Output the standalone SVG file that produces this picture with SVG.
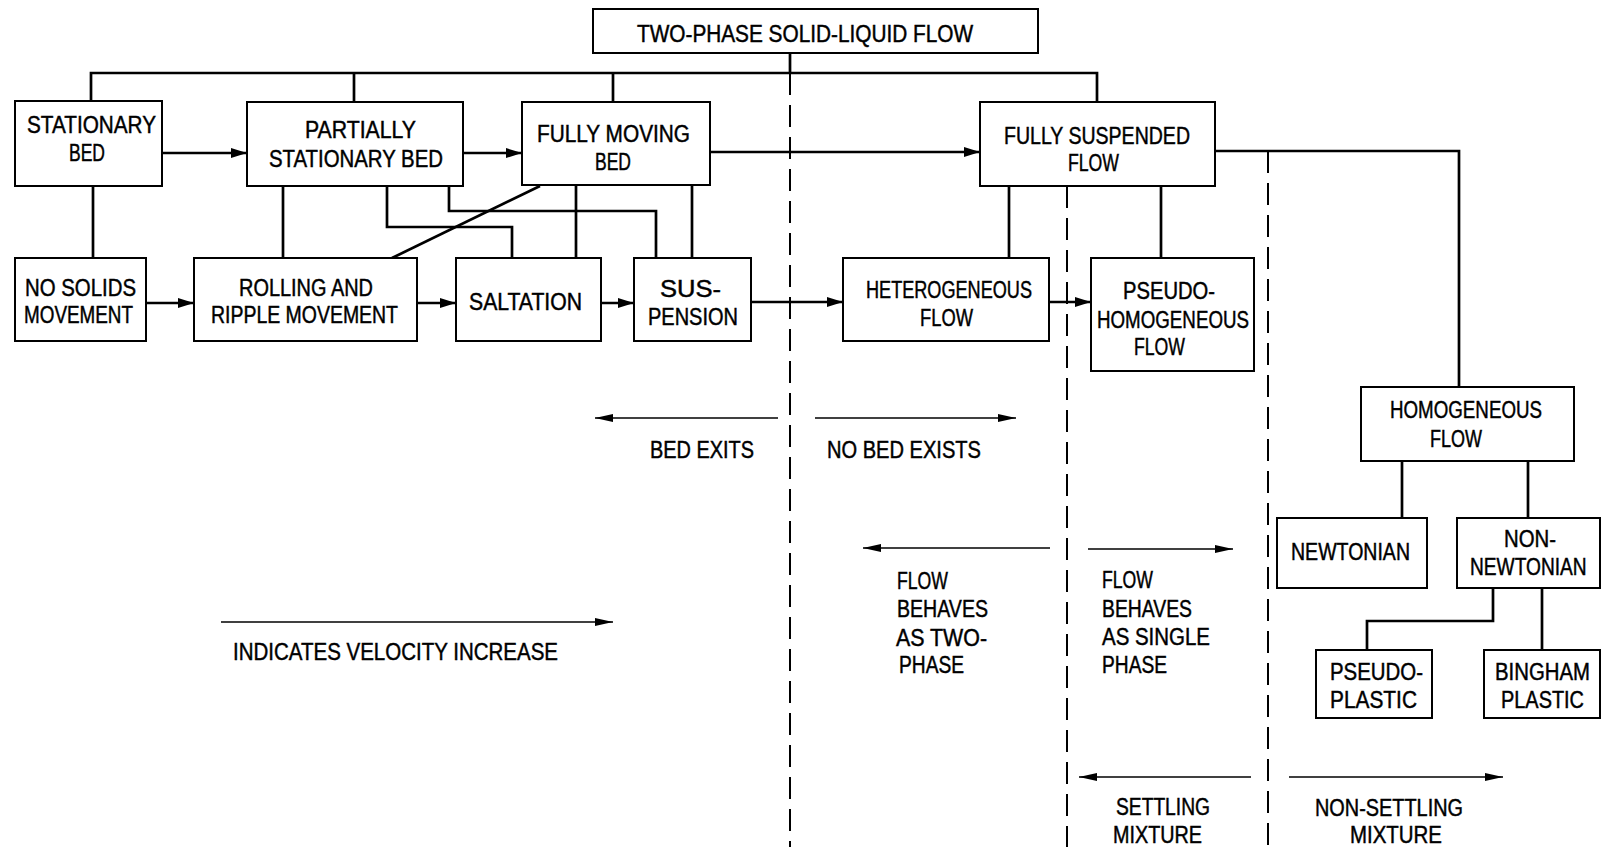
<svg xmlns="http://www.w3.org/2000/svg" width="1601" height="847" viewBox="0 0 1601 847">
<style>
.box{fill:#fff;stroke:#000;stroke-width:2}
.t{font-family:"Liberation Sans",Arial,sans-serif;font-size:23.5px;fill:#000;stroke:#000;stroke-width:0.45}
.c{fill:none;stroke:#000;stroke-width:2.7}
.a{fill:none;stroke:#000;stroke-width:2.7;marker-end:url(#ah)}
.d{fill:none;stroke:#000;stroke-width:2;stroke-dasharray:22 10}
.l{fill:none;stroke:#000;stroke-width:1.6;marker-end:url(#ah2)}
</style>
<defs>
<marker id="ah" markerUnits="userSpaceOnUse" markerWidth="16" markerHeight="10" refX="16" refY="5" orient="auto"><path d="M0,0L16,5L0,10z" fill="#000"/></marker>
<marker id="ah2" markerUnits="userSpaceOnUse" markerWidth="18" markerHeight="8" refX="18" refY="4" orient="auto"><path d="M0,0L18,4L0,8z" fill="#000"/></marker>
</defs>
<rect width="1601" height="847" fill="#fff"/>
<g id="connectors">
<path class="c" d="M790,53V73"/>
<path class="c" d="M91,101V73H1097V102"/>
<path class="c" d="M354,73V102M613,73V102"/>
<path class="c" d="M93,186V258"/>
<path class="c" d="M283,186V258"/>
<path class="c" d="M387,186V227H512V258"/>
<path class="c" d="M449,186V211H656V258"/>
<path class="c" d="M392,258L540,186"/>
<path class="c" d="M576,185V258M692,185V258"/>
<path class="c" d="M1009,186V258M1161,186V258"/>
<path class="c" d="M1215,151H1459V387"/>
<path class="c" d="M1402,461V518M1528,461V518"/>
<path class="c" d="M1493,588V621H1367V650"/>
<path class="c" d="M1542,588V650"/>
<path class="a" d="M162,153H247"/>
<path class="a" d="M463,153H522"/>
<path class="a" d="M710,152H980"/>
<path class="a" d="M146,303H194"/>
<path class="a" d="M417,303H456"/>
<path class="a" d="M601,303H634"/>
<path class="a" d="M751,302H843"/>
<path class="a" d="M1049,302H1091"/>
<path class="d" d="M790,73V847"/>
<path class="d" d="M1067,186V847"/>
<path class="d" d="M1268,151V847"/>
<path class="l" d="M778,418H595"/>
<path class="l" d="M815,418H1016"/>
<path class="l" d="M1050,548H863"/>
<path class="l" d="M1088,549H1233"/>
<path class="l" d="M1251,777H1079"/>
<path class="l" d="M1289,777H1503"/>
<path class="l" d="M221,622H613"/>
</g>
<g id="title"><rect class="box" x="593" y="9" width="445" height="44"/><text class="t" x="637" y="42" textLength="336" lengthAdjust="spacingAndGlyphs">TWO-PHASE SOLID-LIQUID FLOW</text></g>
<g id="stationary-bed"><rect class="box" x="15" y="101" width="147" height="85"/><text class="t" x="27" y="133" textLength="129" lengthAdjust="spacingAndGlyphs">STATIONARY</text><text class="t" x="69" y="161" textLength="36" lengthAdjust="spacingAndGlyphs">BED</text></g>
<g id="partially-stationary-bed"><rect class="box" x="247" y="102" width="216" height="84"/><text class="t" x="305" y="138" textLength="111" lengthAdjust="spacingAndGlyphs">PARTIALLY</text><text class="t" x="269" y="167" textLength="174" lengthAdjust="spacingAndGlyphs">STATIONARY BED</text></g>
<g id="fully-moving-bed"><rect class="box" x="522" y="102" width="188" height="83"/><text class="t" x="537" y="142" textLength="153" lengthAdjust="spacingAndGlyphs">FULLY MOVING</text><text class="t" x="595" y="170" textLength="36" lengthAdjust="spacingAndGlyphs">BED</text></g>
<g id="fully-suspended-flow"><rect class="box" x="980" y="102" width="235" height="84"/><text class="t" x="1004" y="144" textLength="186" lengthAdjust="spacingAndGlyphs">FULLY SUSPENDED</text><text class="t" x="1068" y="171" textLength="51" lengthAdjust="spacingAndGlyphs">FLOW</text></g>
<g id="no-solids-movement"><rect class="box" x="15" y="258" width="131" height="83"/><text class="t" x="25" y="296" textLength="111" lengthAdjust="spacingAndGlyphs">NO SOLIDS</text><text class="t" x="24" y="323" textLength="109" lengthAdjust="spacingAndGlyphs">MOVEMENT</text></g>
<g id="rolling-ripple"><rect class="box" x="194" y="258" width="223" height="83"/><text class="t" x="239" y="296" textLength="134" lengthAdjust="spacingAndGlyphs">ROLLING AND</text><text class="t" x="211" y="323" textLength="187" lengthAdjust="spacingAndGlyphs">RIPPLE MOVEMENT</text></g>
<g id="saltation"><rect class="box" x="456" y="258" width="145" height="83"/><text class="t" x="469" y="310" textLength="113" lengthAdjust="spacingAndGlyphs">SALTATION</text></g>
<g id="suspension"><rect class="box" x="634" y="258" width="117" height="83"/><text class="t" x="660" y="297" textLength="61" lengthAdjust="spacingAndGlyphs">SUS-</text><text class="t" x="648" y="325" textLength="90" lengthAdjust="spacingAndGlyphs">PENSION</text></g>
<g id="heterogeneous-flow"><rect class="box" x="843" y="258" width="206" height="83"/><text class="t" x="866" y="298" textLength="166" lengthAdjust="spacingAndGlyphs">HETEROGENEOUS</text><text class="t" x="920" y="326" textLength="53" lengthAdjust="spacingAndGlyphs">FLOW</text></g>
<g id="pseudo-homogeneous-flow"><rect class="box" x="1091" y="258" width="163" height="113"/><text class="t" x="1123" y="299" textLength="92" lengthAdjust="spacingAndGlyphs">PSEUDO-</text><text class="t" x="1097" y="328" textLength="152" lengthAdjust="spacingAndGlyphs">HOMOGENEOUS</text><text class="t" x="1134" y="355" textLength="51" lengthAdjust="spacingAndGlyphs">FLOW</text></g>
<g id="homogeneous-flow"><rect class="box" x="1361" y="387" width="213" height="74"/><text class="t" x="1390" y="418" textLength="152" lengthAdjust="spacingAndGlyphs">HOMOGENEOUS</text><text class="t" x="1430" y="447" textLength="52" lengthAdjust="spacingAndGlyphs">FLOW</text></g>
<g id="newtonian"><rect class="box" x="1277" y="518" width="150" height="70"/><text class="t" x="1291" y="560" textLength="119" lengthAdjust="spacingAndGlyphs">NEWTONIAN</text></g>
<g id="non-newtonian"><rect class="box" x="1457" y="518" width="143" height="70"/><text class="t" x="1504" y="547" textLength="52" lengthAdjust="spacingAndGlyphs">NON-</text><text class="t" transform="translate(1470,575) scale(0.815,1)" x="0" y="0">NEWTONIAN</text></g>
<g id="pseudo-plastic"><rect class="box" x="1316" y="650" width="116" height="68"/><text class="t" x="1330" y="680" textLength="93" lengthAdjust="spacingAndGlyphs">PSEUDO-</text><text class="t" x="1330" y="708" textLength="87" lengthAdjust="spacingAndGlyphs">PLASTIC</text></g>
<g id="bingham-plastic"><rect class="box" x="1484" y="650" width="116" height="68"/><text class="t" transform="translate(1495,680) scale(0.866,1)" x="0" y="0">BINGHAM</text><text class="t" x="1501" y="708" textLength="83" lengthAdjust="spacingAndGlyphs">PLASTIC</text></g>
<g id="labels">
<text class="t" x="650" y="458" textLength="104" lengthAdjust="spacingAndGlyphs">BED EXITS</text>
<text class="t" x="827" y="458" textLength="154" lengthAdjust="spacingAndGlyphs">NO BED EXISTS</text>
<text class="t" x="897" y="589" textLength="51" lengthAdjust="spacingAndGlyphs">FLOW</text>
<text class="t" x="897" y="617" textLength="91" lengthAdjust="spacingAndGlyphs">BEHAVES</text>
<text class="t" x="896" y="646" textLength="91" lengthAdjust="spacingAndGlyphs">AS TWO-</text>
<text class="t" x="899" y="673" textLength="65" lengthAdjust="spacingAndGlyphs">PHASE</text>
<text class="t" x="1102" y="588" textLength="51" lengthAdjust="spacingAndGlyphs">FLOW</text>
<text class="t" x="1102" y="617" textLength="90" lengthAdjust="spacingAndGlyphs">BEHAVES</text>
<text class="t" x="1102" y="645" textLength="108" lengthAdjust="spacingAndGlyphs">AS SINGLE</text>
<text class="t" x="1102" y="673" textLength="65" lengthAdjust="spacingAndGlyphs">PHASE</text>
<text class="t" x="1116" y="815" textLength="94" lengthAdjust="spacingAndGlyphs">SETTLING</text>
<text class="t" x="1113" y="843" textLength="89" lengthAdjust="spacingAndGlyphs">MIXTURE</text>
<text class="t" x="1315" y="816" textLength="148" lengthAdjust="spacingAndGlyphs">NON-SETTLING</text>
<text class="t" x="1350" y="843" textLength="92" lengthAdjust="spacingAndGlyphs">MIXTURE</text>
<text class="t" x="233" y="660" textLength="325" lengthAdjust="spacingAndGlyphs">INDICATES VELOCITY INCREASE</text>
</g>
</svg>
